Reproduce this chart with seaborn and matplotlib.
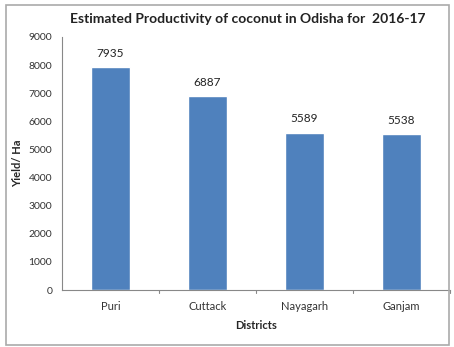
import matplotlib
matplotlib.use("Agg")
import matplotlib.pyplot as plt
import seaborn as sns
import pandas as pd
from matplotlib.patches import Rectangle

districts = ["Puri", "Cuttack", "Nayagarh", "Ganjam"]
yields = [7935, 6887, 5589, 5538]
yticks = [0, 1000, 2000, 3000, 4000, 5000, 6000, 7000, 8000, 9000]

sns.set_theme(style="white")
plt.rcParams['font.family'] = ['Lato', 'DejaVu Sans']

df = pd.DataFrame({"District": districts, "Yield": yields})

fig = plt.figure(figsize=(4.54, 3.47), dpi=100)
ax = fig.add_axes([62/454, 1-290/347, (450-62)/454, (290-37)/347])
sns.barplot(data=df, x="District", y="Yield", color="#4F81BD", width=0.41,
            saturation=1, ax=ax)

ax.set_ylim(0, 9000)
ax.set_xlim(-0.5, 3.5)
ax.set_yticks(yticks)
ax.set_yticklabels([str(t) for t in yticks], fontsize=7.5, color="#333333")
ax.tick_params(axis='x', labelsize=8, colors="#333333", length=0, pad=8)
ax.tick_params(axis='y', length=3, width=0.8, color="#888888", pad=4, direction='out')
for b in [0.5, 1.5, 2.5, 3.5]:
    ax.plot([b, b], [0, -90], color="#888888", lw=0.8, clip_on=False)

for s in ['top', 'right']:
    ax.spines[s].set_visible(False)
for s in ['left', 'bottom']:
    ax.spines[s].set_color("#888888")
    ax.spines[s].set_linewidth(0.8)

for i, v in enumerate(yields):
    ax.text(i, v + 300, str(v), ha='center', va='bottom', fontsize=8.5, color="#222222")

ax.set_xlabel("Districts", fontsize=8, fontweight='bold', labelpad=6)
ax.set_ylabel("Yield/ Ha", fontsize=8, fontweight='bold', labelpad=4)
fig.text(0.545, 1-19/347, "Estimated Productivity of coconut in Odisha for  2016-17",
         ha='center', va='center', fontsize=10, fontweight='bold', color="#222222")

fig.patches.append(Rectangle((6/454, 1-345/347), (449-6)/454, (345-5)/347,
                             transform=fig.transFigure, fill=False,
                             edgecolor="#AAAAAA", linewidth=1.2))

fig.savefig("out.png", dpi=100)
